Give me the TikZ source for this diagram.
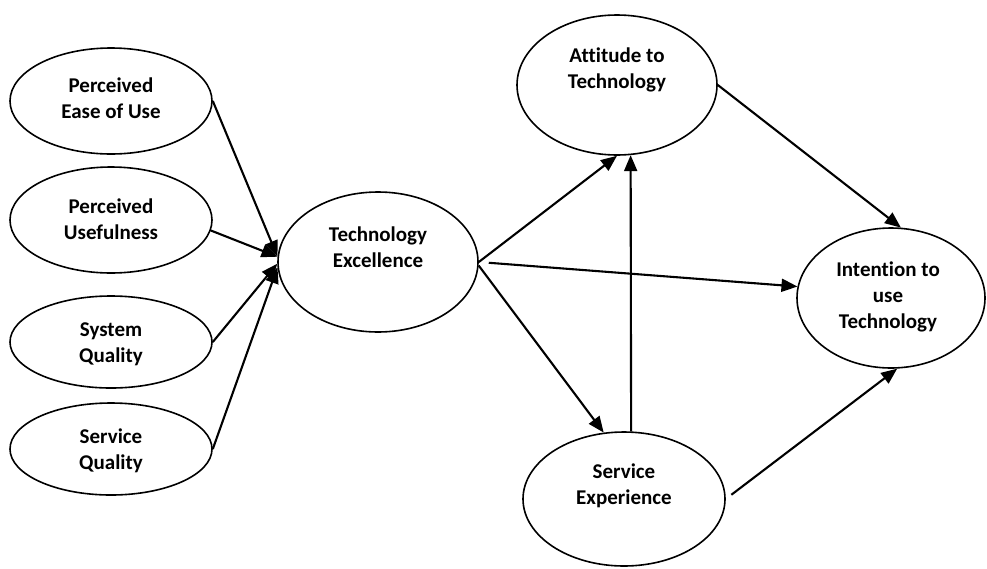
\documentclass[tikz,border=0pt]{standalone}
\usepackage{fontspec}
\setmainfont[Ligatures=NoCommon]{Carlito}
\usetikzlibrary{shapes.geometric,arrows.meta}
\begin{document}
\begin{tikzpicture}[x=1pt,y=-1pt,
    var/.style={draw, ellipse, line width=1.6pt, inner sep=0pt},
    txt/.style={align=center, font=\fontsize{21}{26}\selectfont\bfseries},
    arr/.style={line width=2.1pt, -{Triangle[length=16pt,width=13pt]}}]
    \useasboundingbox (0,0) rectangle (987,568);
    % constructs
    \node[var, minimum width=202, minimum height=106](peu) at (111,101){};
    \node[var, minimum width=202, minimum height=106](pu) at (111,220){};
    \node[var, minimum width=202, minimum height=92](sq) at (111,342){};
    \node[var, minimum width=202, minimum height=92](svq) at (111,449){};
    \node[var, minimum width=200, minimum height=140](te) at (378,262){};
    \node[var, minimum width=200, minimum height=140](att) at (617,85){};
    \node[var, minimum width=202, minimum height=134](se) at (624,499){};
    \node[var, minimum width=188, minimum height=140](int) at (891,298){};
    % labels
    \node[txt](peu-t) at (111,98){Perceived\\Ease of Use};
    \node[txt](pu-t) at (111,219){Perceived\\Usefulness};
    \node[txt](sq-t) at (111,344){System\\Quality};
    \node[txt](svq-t) at (111,451){Service\\Quality};
    \node[txt](te-t) at (378,247){Technology\\Excellence};
    \node[txt](att-t) at (617,70){Attitude to\\Technology};
    \node[txt](se-t) at (624,486){Service\\Experience};
    \node[txt](int-t) at (888,297){Intention to\\use\\Technology};
    % paths
    \draw[arr] (peu.east) -- (te.177);
    \draw[arr] (pu.-6) -- (te.177);
    \draw[arr] (sq.east) -- (te.181);
    \draw[arr] (svq.east) -- (te.183);
    \draw[arr] (te.east) -- (att.south);
    \draw[arr, shorten <=10pt] (te.east) -- (int.173);
    \draw[arr] (te.-2) -- (se.107);
    \draw[arr] (se.84) -- (att.-79);
    \draw[arr, shorten <=7pt] (se.east) -- (int.-85);
    \draw[arr] (att.east) -- (int.82);
\end{tikzpicture}
\end{document}
